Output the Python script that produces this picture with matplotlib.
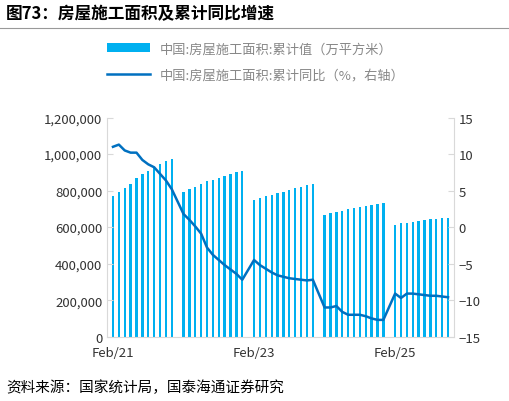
import matplotlib
matplotlib.use("Agg")
import matplotlib.pyplot as plt
import numpy as np

plt.rcParams['font.family'] = ['Noto Sans CJK SC', 'DejaVu Sans']

years = [2021, 2022, 2023, 2024, 2025]
bars_2021 = [770, 790, 815, 835, 870, 890, 910, 925, 945, 960, 975]
bars_2022 = [790, 810, 820, 835, 850, 860, 870, 880, 890, 900, 905]
bars_2023 = [750, 760, 770, 775, 785, 795, 805, 815, 820, 830, 838]
bars_2024 = [665, 675, 685, 690, 700, 705, 710, 715, 720, 725, 730]
bars_2025 = [610, 620, 625, 630, 635, 638, 642, 645, 648, 652]
yoy_2021 = [11.0, 11.3, 10.5, 10.2, 10.2, 9.2, 8.6, 8.2, 7.3, 6.4, 5.2]
yoy_2022 = [1.8, 1.0, 0.1, -0.9, -2.8, -3.8, -4.5, -5.2, -5.8, -6.4, -7.2]
yoy_2023 = [-4.5, -5.2, -5.7, -6.2, -6.6, -6.8, -7.0, -7.1, -7.2, -7.3, -7.2]
yoy_2024 = [-11.0, -11.0, -10.8, -11.6, -12.0, -12.0, -12.0, -12.2, -12.5, -12.7, -12.7]
yoy_2025 = [-9.1, -9.7, -9.1, -9.1, -9.2, -9.3, -9.4, -9.4, -9.5, -9.6]
tick_labels = ["Feb/21", "Feb/23", "Feb/25"]

bars_all = [bars_2021, bars_2022, bars_2023, bars_2024, bars_2025]
yoy_all = [yoy_2021, yoy_2022, yoy_2023, yoy_2024, yoy_2025]
xs, bv, lv = [], [], []
for i, (b, l) in enumerate(zip(bars_all, yoy_all)):
    for m in range(len(b)):
        xs.append(i * 12 + m)  # Feb=0, Jan of next year skipped
        bv.append(b[m] * 1000)
        lv.append(l[m])
xs = np.array(xs)

fig = plt.figure(figsize=(5.10, 4.02), dpi=100)
fig.text(0.012, 0.965, "图73：房屋施工面积及累计同比增速", fontsize=12, fontweight='bold', va='center')
fig.add_artist(plt.Line2D([0.0, 1.0], [0.928, 0.928], color='#999999', lw=0.8))
fig.text(0.012, 0.035, "资料来源：国家统计局，国泰海通证券研究", fontsize=10.5, va='center')

ax = fig.add_axes([0.21, 0.16, 0.68, 0.545])
ax2 = ax.twinx()
b = ax.bar(xs, bv, width=0.4, color='#00B0F0', label='中国:房屋施工面积:累计值（万平方米）')
ln, = ax2.plot(xs, lv, color='#0070C0', lw=1.8, label='中国:房屋施工面积:累计同比（%，右轴）')
ax.set_ylim(0, 1200000)
ax.set_yticks(range(0, 1200001, 200000))
ax.set_yticklabels([f"{v:,}" for v in range(0, 1200001, 200000)])
ax2.set_ylim(-15, 15)
ax2.set_yticks(range(-15, 16, 5))
ax.set_xlim(-1, xs.max() + 1)
ax.set_xticks([0, 24, 48])
ax.set_xticklabels(tick_labels)
for a in (ax, ax2):
    for s in a.spines.values():
        s.set_visible(False)
    a.tick_params(labelsize=9.5, colors='#333333', length=0)
ax.spines['left'].set_visible(True); ax.spines['left'].set_color('#D9D9D9')
ax.spines['bottom'].set_visible(True); ax.spines['bottom'].set_color('#D9D9D9')
ax2.spines['right'].set_visible(True); ax2.spines['right'].set_color('#D9D9D9')
ax.tick_params(axis='y', length=4, color='#D9D9D9', direction='in')
ax2.tick_params(axis='y', length=4, color='#D9D9D9', direction='in')
ax.tick_params(axis='x', pad=7)
fig.legend(handles=[b, ln], loc='upper left', bbox_to_anchor=(0.2, 0.905), frameon=False,
           fontsize=9.5, labelcolor='#888888', handlelength=3.2, borderaxespad=0, labelspacing=1.0)
fig.savefig("out.png", dpi=100)
